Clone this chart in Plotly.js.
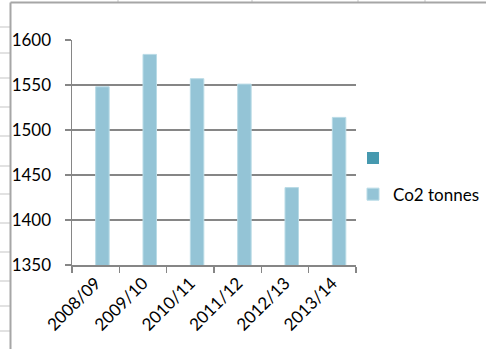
<!DOCTYPE html>
<html>
<head>
<meta charset="utf-8">
<script src="https://cdn.plot.ly/plotly-3.0.1.min.js"></script>
<style>
  html, body { margin: 0; padding: 0; background: #fff; }
  #chart { width: 486px; height: 349px; }
</style>
</head>
<body>
<div id="chart"></div>
<script>
// Annual CO2 emissions by financial year
const years = ['2008/09', '2009/10', '2010/11', '2011/12', '2012/13', '2013/14'];
const blankSeries = [null, null, null, null, null, null];
const co2Tonnes = [1548, 1584, 1557, 1551, 1436, 1514];
const yTicks = [1350, 1400, 1450, 1500, 1550, 1600];

// Plot-area geometry in pixels (used to place the sheet frame decorations)
const W = 486, H = 349;
const M = { l: 72, r: 130, t: 40, b: 84, autoexpand: false };
const PW = W - M.l - M.r, PH = H - M.t - M.b;
const px = x => (x - M.l) / PW;
const py = y => (H - M.b - y) / PH;

const FONT = 'Lato, "Open Sans", sans-serif';

// Faint worksheet row lines to the left of the chart frame
const rowLines = [27, 53, 78, 107, 136, 166, 194, 223, 252, 281, 306, 331];
// Column separators peeking above the frame
const colLines = [118, 252, 358, 425];

const shapes = [];
rowLines.forEach(y => shapes.push({
  type: 'line', xref: 'paper', yref: 'paper',
  x0: px(0), x1: px(10), y0: py(y), y1: py(y),
  line: { color: '#d9d9d9', width: 1.5 }
}));
colLines.forEach(x => shapes.push({
  type: 'line', xref: 'paper', yref: 'paper',
  x0: px(x), x1: px(x), y0: py(0), y1: py(2),
  line: { color: '#d9d9d9', width: 1.5 }
}));
// Chart object border (left and top edges)
shapes.push({
  type: 'line', xref: 'paper', yref: 'paper',
  x0: px(10.5), x1: px(10.5), y0: py(2.5), y1: py(H + 5),
  line: { color: '#a6a6a6', width: 2 }
});
shapes.push({
  type: 'line', xref: 'paper', yref: 'paper',
  x0: px(10.5), x1: px(W + 5), y0: py(2.5), y1: py(2.5),
  line: { color: '#a6a6a6', width: 2 }
});

const traces = [
  {
    type: 'bar', x: years, y: blankSeries, name: ' ',
    legendgroup: 'a',
    marker: { color: '#4699af' },
    hoverinfo: 'skip'
  },
  {
    type: 'bar', x: years, y: co2Tonnes, name: 'Co2 tonnes',
    legendgroup: 'b',
    marker: { color: '#94c4d6', line: { color: '#b9dbe6', width: 1 } }
  }
];

const layout = {
  width: W, height: H,
  margin: M,
  paper_bgcolor: '#ffffff',
  plot_bgcolor: '#ffffff',
  font: { family: FONT, size: 17, color: '#000000' },
  barmode: 'group',
  bargap: 0.43,
  bargroupgap: 0,
  showlegend: true,
  legend: {
    x: px(353), xanchor: 'left',
    y: py(176.5), yanchor: 'middle',
    traceorder: 'grouped',
    tracegroupgap: 11,
    bgcolor: 'rgba(0,0,0,0)',
    borderwidth: 0,
    font: { family: FONT, size: 17, color: '#000000' }
  },
  xaxis: {
    type: 'category',
    tickangle: -45,
    tickson: 'boundaries',
    ticks: 'outside', ticklen: 6, tickwidth: 1.5, tickcolor: '#868686',
    showline: true, linecolor: '#868686', linewidth: 1.5,
    showgrid: false, zeroline: false,
    tickfont: { family: FONT, size: 17, color: '#000000' }
  },
  yaxis: {
    range: [1350, 1600],
    tickvals: yTicks,
    ticktext: yTicks.map(String),
    ticks: 'outside', ticklen: 6, tickwidth: 1.5, tickcolor: '#868686',
    ticklabelstandoff: 10,
    showline: true, linecolor: '#868686', linewidth: 1.5,
    showgrid: true, gridcolor: '#868686', gridwidth: 1.5,
    zeroline: false,
    tickfont: { family: FONT, size: 17, color: '#000000' }
  },
  shapes: shapes
};

Plotly.newPlot('chart', traces, layout, { displayModeBar: false, staticPlot: true });
</script>
</body>
</html>
